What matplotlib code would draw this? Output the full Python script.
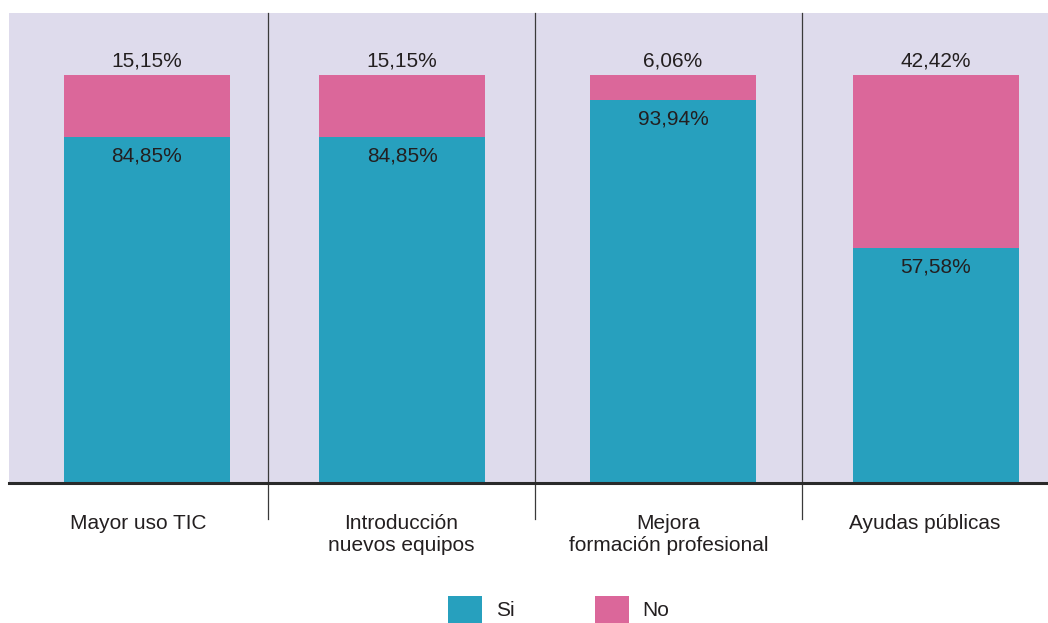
import matplotlib.pyplot as plt
from matplotlib.patches import Rectangle

plt.rcParams['font.family'] = ['Liberation Sans', 'DejaVu Sans']

categories = ['Mayor uso TIC', 'Introducción\nnuevos equipos',
              'Mejora\nformación profesional', 'Ayudas públicas']
si_vals = [84.85, 84.85, 93.94, 57.58]
no_vals = [15.15, 15.15, 6.06, 42.42]
series_names = ['Si', 'No']

col_si = '#27a0be'
col_no = '#db679a'
col_bg = '#dedbec'
col_txt = '#231f20'

W, H = 1048, 623
fig = plt.figure(figsize=(W / 100, H / 100), dpi=100)

# panel geometry in pixels
left, right, top, base = 9, 1048, 13, 482
px_per_unit = (base - 75) / 100.0
ax = fig.add_axes([left / W, (H - base) / H, (right - left) / W, (base - top) / H])
ax.set_xlim(left, right)
ax.set_ylim(0, (base - top) / px_per_unit)
ax.set_facecolor(col_bg)
for s in ax.spines.values():
    s.set_visible(False)
ax.set_xticks([])
ax.set_yticks([])

bar_x = [147, 402, 673, 936]
bar_w = 166
dividers = [268, 535, 802]
seg_edges = [left] + dividers + [right]
label_x = [(seg_edges[i] + seg_edges[i + 1]) / 2 for i in range(4)]

ax.bar(bar_x, si_vals, width=bar_w, color=col_si, zorder=2)
ax.bar(bar_x, no_vals, bottom=si_vals, width=bar_w, color=col_no, zorder=2)

fmt = lambda v: f'{v:.2f}'.replace('.', ',') + '%'
for x, s, n in zip(bar_x, si_vals, no_vals):
    ax.text(x, s + n + 1.2, fmt(n), ha='center', va='bottom', fontsize=15, color=col_txt)
    ax.text(x, s - 2.4, fmt(s), ha='center', va='top', fontsize=15, color=col_txt)

# divider lines running below the baseline
y_low = -(519 - base) / px_per_unit
for d in dividers:
    ax.plot([d, d], [y_low, ax.get_ylim()[1]], color='#3a3a3a', lw=0.9,
            clip_on=False, zorder=3)
ax.axhline(-0.3, color='#2a2a2a', lw=2.2, zorder=4, clip_on=False)

for x, lab in zip(label_x, categories):
    ax.text(x, -(514 - base) / px_per_unit, lab, ha='center', va='top',
            fontsize=15, color=col_txt, linespacing=1.2)

# legend
leg = [(448, col_si, 496), (595, col_no, 642)]
for (x0, c, tx), name in zip(leg, series_names):
    fig.add_artist(Rectangle((x0 / W, 0), 34 / W, 27 / H, transform=fig.transFigure,
                             color=c, lw=0))
    fig.text(tx / W, (H - 611) / H, name, ha='left', va='center', fontsize=15,
             color=col_txt)

plt.savefig('out.png', dpi=100)
